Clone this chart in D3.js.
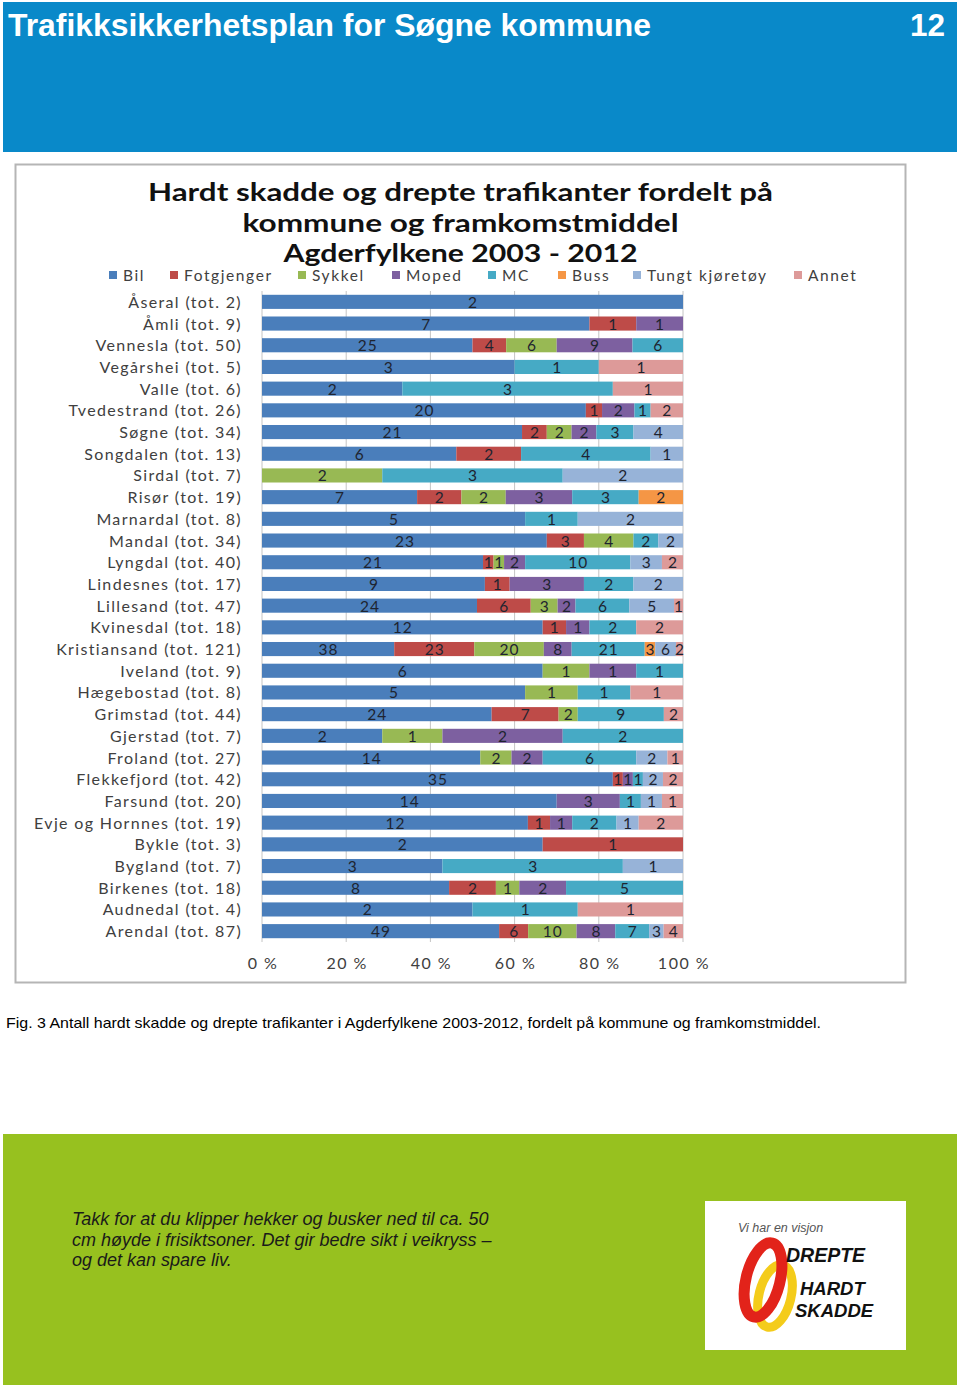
<!DOCTYPE html>
<html><head><meta charset="utf-8">
<script src="https://cdn.jsdelivr.net/npm/d3@7"></script>
<style>html,body{margin:0;padding:0;background:#fff;}svg{display:block;}</style>
</head><body>
<script>
const municipalities = ["Åseral","Åmli","Vennesla","Vegårshei","Valle","Tvedestrand","Søgne","Songdalen","Sirdal","Risør","Marnardal","Mandal","Lyngdal","Lindesnes","Lillesand","Kvinesdal","Kristiansand","Iveland","Hægebostad","Grimstad","Gjerstad","Froland","Flekkefjord","Farsund","Evje og Hornnes","Bykle","Bygland","Birkenes","Audnedal","Arendal"];
const seriesNames = ["Bil","Fotgjenger","Sykkel","Moped","MC","Buss","Tungt kjøretøy","Annet"];
const bil        = [2,7,25,3,2,20,21,6,0,7,5,23,21,9,24,12,38,6,5,24,2,14,35,14,12,2,3,8,2,49];
const fotgjenger = [0,1,4,0,0,1,2,2,0,2,0,3,1,1,6,1,23,0,0,7,0,0,1,0,1,1,0,2,0,6];
const sykkel     = [0,0,6,0,0,0,2,0,2,2,0,4,1,0,3,0,20,1,1,2,1,2,0,0,0,0,0,1,0,10];
const moped      = [0,1,9,0,0,2,2,0,0,3,0,0,2,3,2,1,8,1,0,0,2,2,1,3,1,0,0,2,0,8];
const mc         = [0,0,6,1,3,1,3,4,3,3,1,2,10,2,6,2,21,1,1,9,2,6,1,1,2,0,3,5,1,7];
const buss       = [0,0,0,0,0,0,0,0,0,2,0,0,0,0,0,0,3,0,0,0,0,0,0,0,0,0,0,0,0,0];
const tungt      = [0,0,0,0,0,0,4,1,2,0,2,2,3,2,5,0,6,0,0,0,0,2,2,1,1,0,1,0,0,3];
const annet      = [0,0,0,1,1,2,0,0,0,0,0,0,2,0,1,2,2,0,1,2,0,1,2,1,2,0,0,0,1,4];
const xTicks = ["0 %","20 %","40 %","60 %","80 %","100 %"];
const colors = ["#4a7ebb","#be4b48","#98b954","#7d60a0","#46aac5","#f59645","#97b3d8","#dd9a99"];

const seriesVals = [bil,fotgjenger,sykkel,moped,mc,buss,tungt,annet];
const rows = municipalities.map((m,i)=>{
  const o = {name:m};
  seriesNames.forEach((s,j)=>o[s]=seriesVals[j][i]);
  o.total = seriesVals.reduce((a,v)=>a+v[i],0);
  return o;
});

const W=960,H=1389;
const svg=d3.select("body").append("svg").attr("width",W).attr("height",H);
const sans="Liberation Sans, Arial, sans-serif";

// header
svg.append("rect").attr("x",3).attr("y",2).attr("width",954).attr("height",150).attr("fill","#0989c9");
svg.append("text").attr("x",8).attr("y",36).attr("fill","#fff").attr("font-family",sans).attr("font-weight","bold").attr("font-size",31.5)
  .attr("textLength",643).attr("lengthAdjust","spacingAndGlyphs").text("Trafikksikkerhetsplan for Søgne kommune");
svg.append("text").attr("x",945).attr("y",36).attr("text-anchor","end").attr("fill","#fff").attr("font-family",sans).attr("font-weight","bold").attr("font-size",31.5).text("12");

// chart frame
svg.append("rect").attr("x",15.5).attr("y",164.5).attr("width",890).attr("height",818).attr("fill","#fff").attr("stroke","#b5b5b5").attr("stroke-width",2);

const titleLines=[["Hardt skadde og drepte trafikanter fordelt på",201,625],["kommune og framkomstmiddel",232,436],["Agderfylkene 2003 - 2012",262,354]];
titleLines.forEach(([t,y,len])=>{
  svg.append("text").attr("x",460.5).attr("y",y).attr("text-anchor","middle").attr("font-family","Lato, sans-serif").attr("font-weight","bold").attr("font-size",24).attr("fill","#111")
    .attr("textLength",len).attr("lengthAdjust","spacingAndGlyphs").text(t);
});

// legend
const legendX=[109,170,298,392,488,558,633,794];
const lg=svg.append("g");
seriesNames.forEach((s,i)=>{
  lg.append("rect").attr("x",legendX[i]).attr("y",271).attr("width",8).attr("height",8).attr("fill",colors[i]);
  lg.append("text").attr("x",legendX[i]+14).attr("y",281).attr("font-family","Lato, sans-serif").attr("font-size",15.5).attr("letter-spacing",1.6).attr("fill","#404040").text(s);
});

// scales
const x=d3.scaleLinear().domain([0,1]).range([262,683]);
const y=d3.scaleBand().domain(municipalities).range([291,942]).paddingInner(0.35).paddingOuter(0.175);

// gridlines
svg.append("g").selectAll("line").data(d3.range(0,1.0001,0.2)).join("line")
  .attr("x1",d=>x(d)).attr("x2",d=>x(d)).attr("y1",291).attr("y2",942)
  .attr("stroke","#c4c4c4").attr("stroke-width",1);

// bars
const stack=d3.stack().keys(seriesNames).offset(d3.stackOffsetExpand);
const stacked=stack(rows);
const gBars=svg.append("g");
stacked.forEach((layer,li)=>{
  gBars.append("g").attr("fill",colors[li]).selectAll("rect").data(layer).join("rect")
    .attr("x",d=>x(d[0])).attr("width",d=>x(d[1])-x(d[0]))
    .attr("y",d=>y(d.data.name)).attr("height",y.bandwidth());
});
const gLab=svg.append("g").attr("font-family","Lato, sans-serif").attr("font-size",15.5).attr("letter-spacing",1).attr("fill","#1e2430").attr("text-anchor","middle");
stacked.forEach((layer,li)=>{
  gLab.selectAll(null).data(layer.filter(d=>d.data[seriesNames[li]]>0)).join("text")
    .attr("x",d=>(x(d[0])+x(d[1]))/2+0.5).attr("y",d=>y(d.data.name)+y.bandwidth()/2+6)
    .text(d=>d.data[seriesNames[li]]);
});

// category labels
svg.append("g").attr("font-family","Lato, sans-serif").attr("font-size",16).attr("letter-spacing",1.35).attr("fill","#404040").attr("text-anchor","end")
  .selectAll("text").data(rows).join("text")
  .attr("x",242).attr("y",d=>y(d.name)+y.bandwidth()/2+6)
  .text(d=>`${d.name} (tot. ${d.total})`);

// x tick labels
svg.append("g").attr("font-family","Lato, sans-serif").attr("font-size",16).attr("letter-spacing",1.5).attr("fill","#404040").attr("text-anchor","middle")
  .selectAll("text").data(xTicks).join("text")
  .attr("x",(d,i)=>x(i*0.2)+1).attr("y",969).text(d=>d);

// caption
svg.append("text").attr("x",6).attr("y",1028).attr("font-family",sans).attr("font-size",15).attr("fill","#000")
  .attr("textLength",815).attr("lengthAdjust","spacingAndGlyphs")
  .text("Fig. 3 Antall hardt skadde og drepte trafikanter i Agderfylkene 2003-2012, fordelt på kommune og framkomstmiddel.");

// footer
svg.append("rect").attr("x",3).attr("y",1134).attr("width",954).attr("height",251).attr("fill","#97c11f");
const ft=["Takk for at du klipper hekker og busker ned til ca. 50","cm høyde i frisiktsoner. Det gir bedre sikt i veikryss –","og det kan spare liv."];
ft.forEach((t,i)=>svg.append("text").attr("x",72).attr("y",1225+i*20.5).attr("font-family",sans).attr("font-style","italic").attr("font-size",18).attr("fill","#1a1a1a").text(t));

// logo
const lo=svg.append("g");
lo.append("rect").attr("x",705).attr("y",1201).attr("width",201).attr("height",149).attr("fill","#fff");
lo.append("text").attr("x",738).attr("y",1232).attr("font-family",sans).attr("font-style","italic").attr("font-size",12.5).attr("fill","#555").text("Vi har en visjon");
lo.append("ellipse").attr("cx",775).attr("cy",1296).attr("rx",16).attr("ry",32).attr("transform","rotate(14,775,1296)").attr("fill","none").attr("stroke","#f4cc1a").attr("stroke-width",9);
lo.append("ellipse").attr("cx",763).attr("cy",1280).attr("rx",17).attr("ry",38).attr("transform","rotate(14,763,1280)").attr("fill","none").attr("stroke","#e2231a").attr("stroke-width",11);
lo.append("text").attr("x",786).attr("y",1262).attr("font-family",sans).attr("font-weight","bold").attr("font-style","italic").attr("font-size",19.5).attr("fill","#111").text("DREPTE");
lo.append("text").attr("x",800).attr("y",1295).attr("font-family",sans).attr("font-weight","bold").attr("font-style","italic").attr("font-size",18.5).attr("fill","#111").text("HARDT");
lo.append("text").attr("x",795).attr("y",1317).attr("font-family",sans).attr("font-weight","bold").attr("font-style","italic").attr("font-size",18.5).attr("fill","#111").text("SKADDE");
</script>
</body></html>
